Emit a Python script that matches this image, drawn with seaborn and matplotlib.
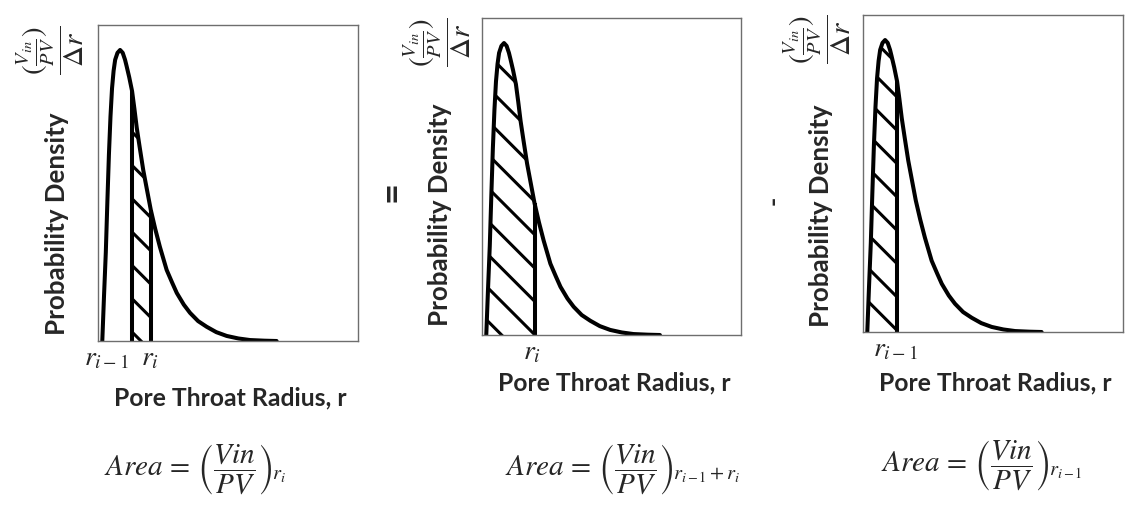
import numpy as np
import matplotlib
matplotlib.use("Agg")
import matplotlib.pyplot as plt
import seaborn as sns

# ---- data (box units: x 0..10, y 0..10) ----
radius = [0.165, 0.23, 0.30, 0.36, 0.42, 0.48, 0.54, 0.60, 0.66, 0.75, 0.85,
          0.95, 1.04, 1.10, 1.20, 1.31, 1.40, 1.49, 1.60, 1.74, 1.88, 2.03,
          2.20, 2.38, 2.64, 2.85, 3.03, 3.30, 3.54, 3.85, 4.18, 4.55, 4.95,
          5.40, 5.85, 6.40, 6.87]
density = [0.0, 1.4, 2.8, 4.4, 5.9, 7.1, 8.0, 8.55, 8.9, 9.12, 9.21,
           9.12, 8.90, 8.70, 8.35, 7.91, 7.35, 6.75, 6.15, 5.41, 4.80, 4.15,
           3.55, 2.98, 2.25, 1.85, 1.52, 1.15, 0.89, 0.63, 0.45, 0.28, 0.16,
           0.08, 0.03, 0.01, 0.0]

r_prev = 1.31   # r_{i-1}
r_curr = 2.03   # r_i
r_start = radius[0]

# shaded ranges per panel
shade_lo = [r_prev, r_start, r_start]
shade_hi = [r_curr, r_curr, r_prev]
# bounds drawn as vertical lines
edge_lines = [[r_prev, r_curr], [r_curr], [r_prev]]
# tick labels per panel
tick_pos = [[0.31, 1.98], [1.93], [1.23]]
tick_lab = [[r"$r_{i-1}$", r"$r_i$"], [r"$r_i$"], [r"$r_{i-1}$"]]
area_lab = [r"$Area\,=\,\left(\dfrac{Vin}{PV}\right)_{\!r_i}$",
            r"$Area\,=\,\left(\dfrac{Vin}{PV}\right)_{\!r_{i-1}+r_i}$",
            r"$Area\,=\,\left(\dfrac{Vin}{PV}\right)_{\!r_{i-1}}$"]
ylab_frac = r"$\dfrac{(\frac{V_{in}}{PV})}{\Delta r}$"
xlabel = "Pore Throat Radius, r"
ylabel = "Probability Density"
operators = ["=", "-"]

sns.set_theme(style="white")
plt.rcParams["font.family"] = ["Lato", "DejaVu Sans"]
plt.rcParams["mathtext.fontset"] = "stix"
plt.rcParams["hatch.linewidth"] = 1.1

W, H, DPI = 1125, 511, 200
fig = plt.figure(figsize=(W / DPI, H / DPI), dpi=DPI)

# axes boxes in pixels (left, top, right, bottom)
boxes = [(98, 25, 358, 341), (482, 18, 741, 335), (863, 15, 1123, 332)]
xlab_y = [398, 383, 383]
ylab_xy = [(57, 224), (440, 215), (821, 216)]
frac_xy = [(50, 50), (437, 42), (817, 39)]
area_xy = [(195, 470), (623, 470), (982, 466)]
op_xy = [(392, 192), (773, 200)]

r_arr = np.array(radius)
d_arr = np.array(density)

for i, (l, t, rr, b) in enumerate(boxes):
    ax = fig.add_axes([l / W, 1 - b / H, (rr - l) / W, (b - t) / H])
    sns.lineplot(x=radius, y=density, ax=ax, color="black", linewidth=1.45,
                 solid_capstyle="round")
    mask = (r_arr >= shade_lo[i] - 1e-9) & (r_arr <= shade_hi[i] + 1e-9)
    ax.fill_between(r_arr, 0, d_arr, where=mask, facecolor="none",
                    edgecolor="black", hatch="\\\\", linewidth=0)
    for e in edge_lines[i]:
        top = d_arr[np.argmin(np.abs(r_arr - e))]
        ax.vlines(e, 0, top, color="black", linewidth=1.45)
    ax.set_xlim(0, 10)
    ax.set_ylim(0, 10)
    ax.set_xticks(tick_pos[i])
    ax.set_xticklabels(tick_lab[i], fontsize=10)
    ax.set_yticks([])
    ax.tick_params(axis="x", length=0, pad=1.5)
    for s in ax.spines.values():
        s.set_visible(True)
        s.set_color("#6e6e6e")
        s.set_linewidth(0.5)
    ax.set_xlabel("")
    ax.set_ylabel("")
    fig.text((l + rr) / 2 / W + 0.002, 1 - xlab_y[i] / H, xlabel,
             fontsize=8.9, fontweight="bold", ha="center", va="center")
    fig.text(ylab_xy[i][0] / W, 1 - ylab_xy[i][1] / H, ylabel, rotation=90,
             fontsize=9.3, fontweight="bold", ha="center", va="center")
    fig.text(frac_xy[i][0] / W, 1 - frac_xy[i][1] / H, ylab_frac,
             rotation=90, fontsize=10.5, ha="center", va="center")
    fig.text(area_xy[i][0] / W, 1 - area_xy[i][1] / H, area_lab[i],
             fontsize=10.5, ha="center", va="center")

for (ox, oy), op, fs in zip(op_xy, operators, [13, 9]):
    fig.text(ox / W, 1 - oy / H, op, rotation=90, fontsize=fs,
             fontweight="bold", ha="center", va="center")

fig.savefig("out.png", dpi=DPI)
